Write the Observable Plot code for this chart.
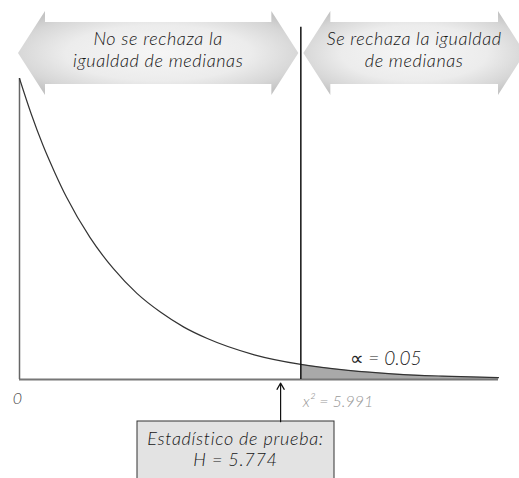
<!DOCTYPE html>
<html>
<head>
<meta charset="utf-8">
<script src="https://cdn.jsdelivr.net/npm/d3@7"></script>
<script src="https://cdn.jsdelivr.net/npm/@observablehq/plot@0.6"></script>
<style>
  html, body { margin: 0; padding: 0; background: #fff; }
  #chart svg { display: block; }
</style>
</head>
<body>
<div id="chart"></div>
<script>
// Chi-square density
const xs   = [0, 0.25, 0.5, 0.75, 1, 1.5, 2, 2.5, 3, 3.5, 4, 5, 5.991, 7, 8, 9, 10.2];
const dens = [0.5, 0.441, 0.389, 0.344, 0.303, 0.236, 0.184, 0.143, 0.112, 0.087, 0.068, 0.041, 0.025, 0.015, 0.009, 0.0056, 0.003];
const critical = 5.991;
const alphaLabel = "∝ = 0.05";
const criticalLabel = "x² = 5.991";
const statLines = ["Estadístico de prueba:", "H = 5.774"];
const statMarkerX = 5.56;
const regionLabels = [["No se rechaza la", "igualdad de medianas"], ["Se rechaza la igualdad", "de medianas"]];
const originLabel = ["0"];

const pts = xs.map((x, i) => ({x, y: dens[i]}));
const tail = pts.filter(d => d.x >= critical);
const xMax = xs[xs.length - 1];

const FONT = "Lato, 'DejaVu Sans', sans-serif";

function addText(g, ns, x, y, str, size, ls = "0.6") {
  const t = document.createElementNS(ns, "text");
  t.setAttribute("x", x);
  t.setAttribute("y", y);
  t.setAttribute("text-anchor", "middle");
  t.setAttribute("font-family", FONT);
  t.setAttribute("font-style", "italic");
  t.setAttribute("font-weight", "300");
  t.setAttribute("font-size", size);
  t.setAttribute("letter-spacing", ls);
  t.setAttribute("fill", "#151515");
  t.textContent = str;
  g.appendChild(t);
}

function annotations(index, scales, values, dimensions) {
  const ns = "http://www.w3.org/2000/svg";
  const g = document.createElementNS(ns, "g");
  const sx = scales.x, sy = scales.y;
  g.innerHTML = `
  <defs>
    <radialGradient id="arrGrad" cx="0.5" cy="0.5" r="0.6">
      <stop offset="0" stop-color="#f6f6f6"/>
      <stop offset="0.55" stop-color="#ececec"/>
      <stop offset="0.85" stop-color="#d6d6d6"/>
      <stop offset="1" stop-color="#c4c4c4"/>
    </radialGradient>
  </defs>`;
  const arrows = [
    [sx(0) - 1, sx(critical) - 2],
    [sx(critical) + 3, dimensions.width + 6]
  ];
  const cy = 53, headH = 42, shaftH = 31, headL = 27;
  arrows.forEach(([a, b], i) => {
    const p = document.createElementNS(ns, "path");
    p.setAttribute("d", `M${a},${cy} L${a+headL},${cy-headH} L${a+headL},${cy-shaftH} L${b-headL},${cy-shaftH} L${b-headL},${cy-headH} L${b},${cy} L${b-headL},${cy+headH} L${b-headL},${cy+shaftH} L${a+headL},${cy+shaftH} L${a+headL},${cy+headH} Z`);
    p.setAttribute("fill", "url(#arrGrad)");
    g.appendChild(p);
    const cx = (a + b) / 2;
    regionLabels[i].forEach((line, j) => addText(g, ns, cx, 45 + j * 22, line, 18));
  });
  // statistic box
  const bx1 = 137, bx2 = 334, by1 = sy(0) + 42;
  const r = document.createElementNS(ns, "rect");
  r.setAttribute("x", bx1); r.setAttribute("y", by1);
  r.setAttribute("width", bx2 - bx1); r.setAttribute("height", dimensions.height - by1 + 10);
  r.setAttribute("fill", "#e3e3e3"); r.setAttribute("stroke", "#333"); r.setAttribute("stroke-width", "1");
  g.appendChild(r);
  statLines.forEach((line, j) => addText(g, ns, (bx1 + bx2) / 2, by1 + 24 + j * 21, line, 18, "0.7"));
  return g;
}

const chart = Plot.plot({
  width: 519,
  height: 478,
  marginLeft: 19,
  marginRight: 21,
  marginTop: 78,
  marginBottom: 99,
  x: {domain: [0, xMax], axis: null},
  y: {domain: [0, 0.5], axis: null},
  style: {background: "#fff"},
  marks: [
    annotations,
    Plot.areaY(tail, {x: "x", y: "y", curve: "monotone-x", fill: "#a9a9a9"}),
    Plot.ruleY([0], {x1: 0, x2: xMax, stroke: "#777", strokeWidth: 2}),
    Plot.ruleX([0], {y1: 0, y2: 0.5, stroke: "#666", strokeWidth: 1.5}),
    Plot.line(pts, {x: "x", y: "y", curve: "monotone-x", stroke: "#333", strokeWidth: 1.2}),
    Plot.ruleX([critical], {y1: 0, y2: 0.585, stroke: "#111", strokeWidth: 1.5}),
    Plot.text([alphaLabel], {x: 7.8, y: 0, text: d => d, dy: -21, fontSize: 19, fontStyle: "italic", fontWeight: 300, fontFamily: FONT, fill: "#222", letterSpacing: "0.8"}),
    Plot.text([criticalLabel], {x: critical, y: 0, text: d => d, dx: 2, dy: 22, textAnchor: "start", fontSize: 16, fontStyle: "italic", fontWeight: 300, fontFamily: FONT, fill: "#999", letterSpacing: "0.8"}),
    Plot.text(originLabel, {x: 0, y: 0, text: d => d, dx: -2, dy: 19, fontSize: 16, fontStyle: "italic", fontWeight: 300, fontFamily: FONT, fill: "#444"}),
    Plot.arrow([statMarkerX], {x1: d => d, x2: d => d, y1: -0.07, y2: -0.006, stroke: "#111", strokeWidth: 1.2, headLength: 9})
  ]
});
document.getElementById("chart").appendChild(chart);
</script>
</body>
</html>
